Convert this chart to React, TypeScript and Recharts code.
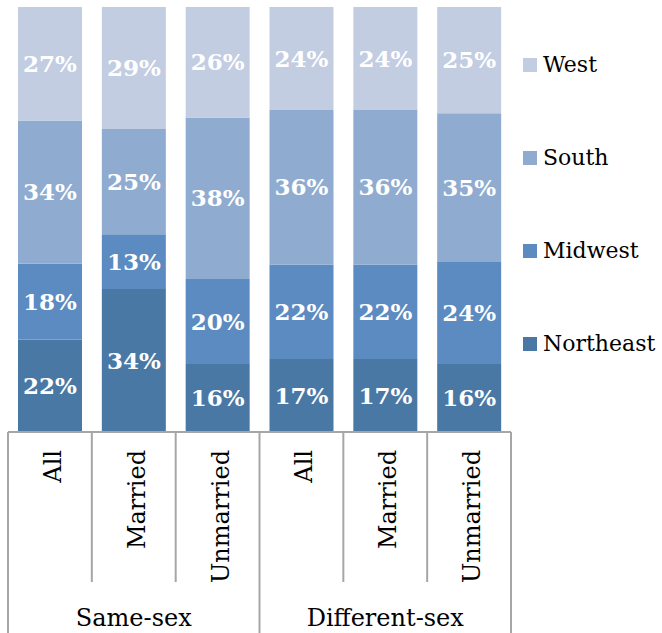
import { BarChart, Bar, XAxis, YAxis, LabelList } from 'recharts';

const categories = ['All', 'Married', 'Unmarried', 'All', 'Married', 'Unmarried'];
const groups = ['Same-sex', 'Same-sex', 'Same-sex', 'Different-sex', 'Different-sex', 'Different-sex'];

const northeast = [22, 34, 16, 17, 17, 16];
const midwest = [18, 13, 20, 22, 22, 24];
const south = [34, 25, 38, 36, 36, 35];
const west = [27, 29, 26, 24, 24, 25];

const series = [
  { key: 'Northeast', color: '#4A78A5' },
  { key: 'Midwest', color: '#5B8BC0' },
  { key: 'South', color: '#8FACD0' },
  { key: 'West', color: '#C3CDE2' },
];

const data = categories.map((label, i) => ({
  label,
  group: groups[i],
  Northeast: northeast[i],
  Midwest: midwest[i],
  South: south[i],
  West: west[i],
}));

const W = 662;
const H = 633;
const margin = { top: 7, right: 151, bottom: 0, left: 8 };
const axisH = 201;
const innerTickH = 150;
const lineColor = '#A6A6A6';
const font = '"DejaVu Serif", Georgia, serif';

const catW = (W - margin.left - margin.right) / categories.length;

function CategoryTick(props: any) {
  const { x, y, payload, index } = props;
  const left = x - catW / 2;
  const isGroupEdge = index % 3 === 0;
  return (
    <g>
      <line x1={left} x2={left} y1={y} y2={y + (isGroupEdge ? axisH : innerTickH)} stroke={lineColor} strokeWidth={2} />
      {index === categories.length - 1 && (
        <line x1={x + catW / 2} x2={x + catW / 2} y1={y} y2={y + axisH} stroke={lineColor} strokeWidth={2} />
      )}
      <text
        transform={`translate(${x + 11}, ${y + 18}) rotate(-90)`}
        textAnchor="end"
        fontSize={24}
        fontFamily={font}
        fill="#000"
      >
        {payload.value}
      </text>
      {index % 3 === 1 && (
        <text x={x} y={y + 194} textAnchor="middle" fontSize={24} fontFamily={font} fill="#000">
          {groups[index]}
        </text>
      )}
    </g>
  );
}

// legend drawn beside the plot, top item first (reverse of stacking order)
function SideLegend() {
  const items = [...series].reverse();
  return (
    <div style={{ position: 'absolute', left: 523, top: 18, fontFamily: font, fontSize: 22, color: '#000' }}>
      {items.map((it) => (
        <div key={it.key} style={{ height: 93, display: 'flex', alignItems: 'center' }}>
          <span style={{ width: 14, height: 14, background: it.color, display: 'inline-block', marginRight: 6 }} />
          <span>{it.key}</span>
        </div>
      ))}
    </div>
  );
}

export default function App() {
  return (
    <div style={{ position: 'absolute', left: 0, top: 0, width: W, height: H, background: '#fff' }}>
      <BarChart width={W} height={H} data={data} margin={margin} stackOffset="expand" barSize={64}>
        <XAxis
          dataKey="label"
          interval={0}
          height={axisH}
          tickLine={false}
          tickSize={0}
          tickMargin={0}
          axisLine={{ stroke: lineColor, strokeWidth: 2 }}
          tick={<CategoryTick />}
        />
        <YAxis hide domain={[0, 1]} />
        {series.map((s) => (
          <Bar key={s.key} dataKey={s.key} stackId="a" fill={s.color} isAnimationActive={false}>
            <LabelList
              dataKey={s.key}
              position="center"
              formatter={(v: any) => `${v}%`}
              fill="#fff"
              fontSize={23}
              fontWeight="bold"
              fontFamily={font}
            />
          </Bar>
        ))}
      </BarChart>
      <SideLegend />
    </div>
  );
}
